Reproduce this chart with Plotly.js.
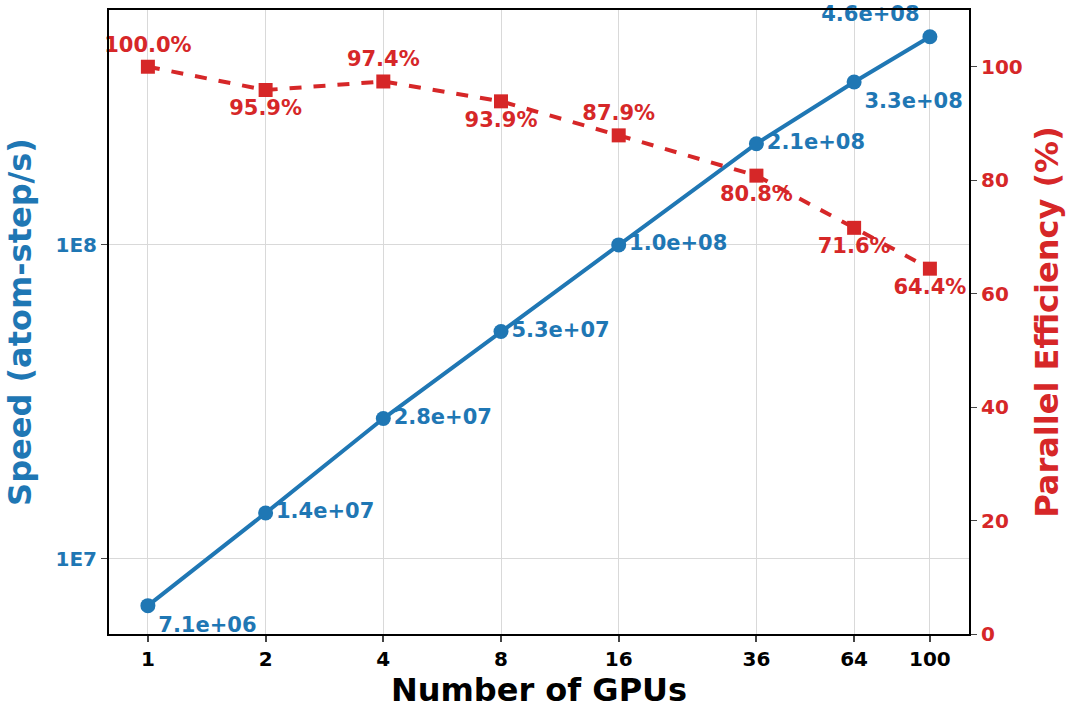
<!DOCTYPE html>
<html><head><meta charset="utf-8">
<script src="https://cdn.plot.ly/plotly-3.0.1.min.js"></script>
<style>body{margin:0}</style></head>
<body><div id="chart" style="width:1080px;height:716px"></div>
<script>
var gpus = [1, 2, 4, 8, 16, 36, 64, 100];
var speed = [7.1e6, 1.4e7, 2.8e7, 5.3e7, 1.0e8, 2.1e8, 3.3e8, 4.6e8];
var speedLabels = ["7.1e+06", "1.4e+07", "2.8e+07", "5.3e+07", "1.0e+08", "2.1e+08", "3.3e+08", "4.6e+08"];
var efficiency = [100.0, 95.9, 97.4, 93.9, 87.9, 80.8, 71.6, 64.4];
var effLabels = efficiency.map(function(v){ return v.toFixed(1) + "%"; });

var blue = "#1f77b4", red = "#d62728";
var fnt = {family: "DejaVu Sans", size: 22, color: "black", weight: "bold"};

var speedTrace = {
  x: gpus, y: speed, type: "scatter", mode: "lines+markers+text",
  line: {color: blue, width: 4}, marker: {color: blue, size: 15},
  text: speedLabels.map(function(s){ return "<b>" + s + "</b>"; }),
  textposition: ["bottom right","middle right","middle right","middle right","middle right","middle right","bottom right","top left"],
  textfont: {family: "DejaVu Sans", size: 21, color: blue},
  cliponaxis: false, showlegend: false
};
var effTrace = {
  x: gpus, y: efficiency, type: "scatter", mode: "lines+markers+text", yaxis: "y2",
  line: {color: red, width: 4, dash: "dash"}, marker: {color: red, size: 14, symbol: "square"},
  text: effLabels.map(function(s){ return "<b>" + s + "</b>"; }),
  textposition: ["top center","bottom center","top center","bottom center","top center","bottom center","bottom center","bottom center"],
  textfont: {family: "DejaVu Sans", size: 21, color: red},
  cliponaxis: false, showlegend: false
};

var layout = {
  width: 1080, height: 716,
  margin: {l: 109, r: 111, t: 10, b: 82},
  plot_bgcolor: "white", paper_bgcolor: "white",
  xaxis: {type: "log", range: [Math.log10(1) - 0.0995, 2.1],
    tickvals: gpus, ticktext: gpus.map(function(g){ return "<b>" + g + "</b>"; }),
    tickfont: {family: "DejaVu Sans", size: 20, color: "black"},
    showgrid: true, gridcolor: "#d9d9d9", showline: true, linecolor: "black", linewidth: 2, mirror: true,
    ticks: "outside", ticklen: 6, tickwidth: 1.5,
    title: {text: "<b>Number of GPUs</b>", font: {family: "DejaVu Sans", size: 32, color: "black"}, standoff: 8}},
  yaxis: {type: "log", range: [6.761, 8.748],
    tickvals: [1e7, 1e8], ticktext: ["<b>1E7</b>", "<b>1E8</b>"],
    tickfont: {family: "DejaVu Sans", size: 20, color: blue},
    showgrid: true, gridcolor: "#d9d9d9", showline: true, linecolor: "black", linewidth: 2,
    ticks: "outside", ticklen: 6, zeroline: false,
    title: {text: "<b>Speed (atom-step/s)</b>", font: {family: "DejaVu Sans", size: 32, color: blue}, standoff: 14}},
  yaxis2: {overlaying: "y", side: "right", range: [0, 110],
    tickvals: [0, 20, 40, 60, 80, 100], ticktext: [0,20,40,60,80,100].map(function(v){ return "<b>" + v + "</b>"; }),
    tickfont: {family: "DejaVu Sans", size: 20, color: red},
    showgrid: false, showline: true, linecolor: "black", linewidth: 2, ticks: "outside", ticklen: 6, zeroline: false,
    title: {text: "<b>Parallel Efficiency (%)</b>", font: {family: "DejaVu Sans", size: 32, color: red}, standoff: 14}}
};

Plotly.newPlot("chart", [speedTrace, effTrace], layout, {displayModeBar: false});
</script></body></html>
